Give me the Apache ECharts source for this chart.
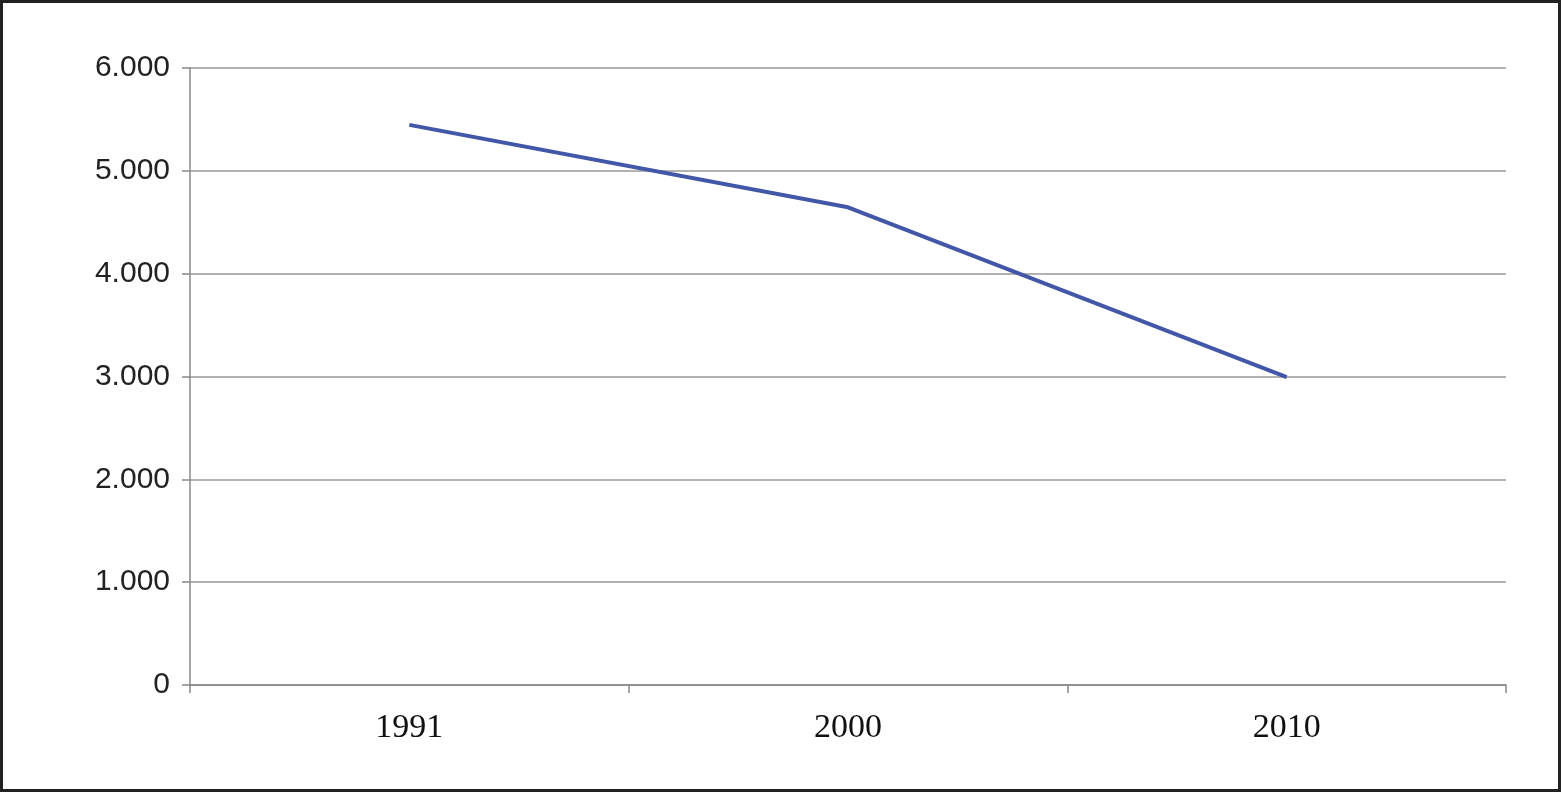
<!DOCTYPE html>
<html><head><meta charset="utf-8">
<script src="https://cdn.jsdelivr.net/npm/echarts@6/dist/echarts.min.js"></script>
<style>html,body{margin:0;padding:0;background:#fff}#c{width:1561px;height:792px;box-sizing:border-box;border:3px solid #222}</style>
</head><body><div id="c"></div>
<script>
const categories = ['1991','2000','2010'];
const values = [5447, 4645, 2993];
const chart = echarts.init(document.getElementById('c'));
chart.setOption({
  animation:false,
  grid:{left:187,right:52,top:65,bottom:104},
  xAxis:{type:'category',data:categories,boundaryGap:true,
    axisLine:{lineStyle:{color:'#888',width:1.5}},
    axisTick:{show:true,length:8,lineStyle:{color:'#888',width:1.5}},
    axisLabel:{color:'#111',fontFamily:'Liberation Serif',fontSize:34,margin:26}},
  yAxis:{type:'value',min:0,max:6000,interval:1000,
    axisLine:{show:true,lineStyle:{color:'#888',width:1.5}},
    axisTick:{show:true,length:8,lineStyle:{color:'#888',width:1.5}},
    splitLine:{lineStyle:{color:'#999',width:1.5}},
    axisLabel:{color:'#222',fontFamily:'Liberation Sans',fontSize:30,margin:20,
      formatter:v=>v===0?'0':(v/1000).toFixed(3)}},
  series:[{type:'line',data:values,symbol:'circle',symbolSize:2,showSymbol:true,
    itemStyle:{color:'#4257a8',opacity:0},
    lineStyle:{color:'#4257a8',width:4},
    label:{show:true,position:'top',distance:0,offset:[0,19],color:'#111',fontFamily:'Liberation Serif',fontWeight:'bold',fontSize:36,
      formatter:p=>(p.value/1000).toFixed(3)}}]
});
</script></body></html>
